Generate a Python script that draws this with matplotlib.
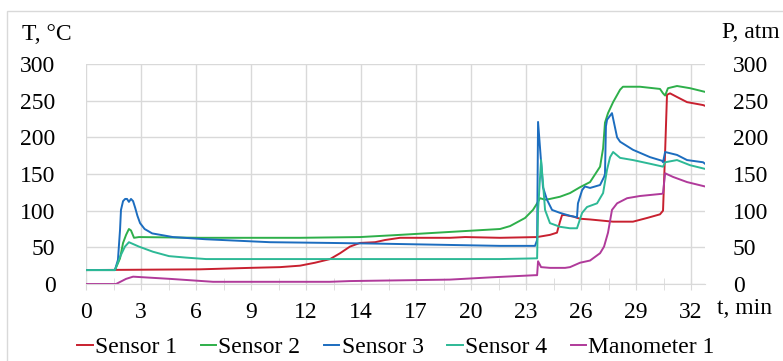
import numpy as np
import matplotlib
matplotlib.use("Agg")
import matplotlib.pyplot as plt
from matplotlib.patches import Rectangle

plt.rcParams["font.family"] = ["Liberation Serif", "DejaVu Serif"]
FS = 17

# x axis: category-like labels, evenly spaced
X_LABELS = ["0", "3", "6", "9", "12", "14", "17", "20", "23", "26", "29", "32"]
STEP = 32 / 11          # minutes between labelled gridlines
T_MAX = 32.74

# Sensor 1 (red)
t_s1 = [0, 6.03, 8.67, 10.26, 11.32, 12.11, 12.91, 13.44, 13.96, 14.49, 15.29, 15.82,
        16.61, 19.25, 20.05, 21.9, 23.86, 24.54, 24.91, 25.07, 25.18, 25.34, 25.76,
        26.13, 26.66, 27.87, 28.93, 29.67, 30.36, 30.52, 30.63, 30.73, 30.89, 31.26,
        31.79, 32.64, 32.74]
s1 = [19, 20, 22, 23, 25, 29, 34, 42, 51, 56, 57, 60,
      63, 63, 64, 63, 64, 67, 70, 85, 94, 94, 92,
      89, 88, 85, 85, 90, 95, 100, 180, 258, 260, 255,
      248, 244, 243]

# Sensor 2 (green)
t_s2 = [0, 1.53, 1.80, 1.96, 2.12, 2.27, 2.38, 2.54, 2.80, 6.03, 11.32, 14.49, 16.61,
        19.25, 21.9, 22.43, 23.22, 23.64, 23.86, 24.01, 24.28, 24.54, 25.07, 25.6,
        26.13, 26.66, 27.19, 27.35, 27.45, 27.61, 27.88, 28.25, 28.4, 29.3, 30.36,
        30.52, 30.63, 30.78, 31.26, 31.95, 32.74]
s2 = [19, 19, 35, 56, 67, 75, 73, 63, 64, 63, 63, 64, 67,
      71, 75, 79, 90, 101, 110, 117, 115, 116, 119, 124,
      132, 139, 160, 185, 220, 233, 248, 265, 269, 269, 266,
      260, 257, 267, 270, 267, 262]

# Sensor 3 (blue)
t_s3 = [0, 1.53, 1.69, 1.80, 1.85, 1.96, 2.07, 2.17, 2.27, 2.38, 2.49, 2.60, 2.72,
        2.86, 3.10, 3.50, 4.60, 6.35, 9.73, 12.91, 15.55, 19.78, 21.9, 23.75, 23.86,
        23.91, 24.01, 24.17, 24.38, 24.65, 25.07, 25.6, 25.97, 26.02, 26.24, 26.39,
        26.66, 27.19, 27.40, 27.45, 27.50, 27.56, 27.82, 28.09, 28.25, 28.93, 29.83,
        30.47, 30.52, 30.63, 31.26, 31.79, 32.64, 32.74]
s3 = [19, 19, 33, 74, 101, 113, 116, 116, 112, 116, 113, 104, 93,
      83, 75, 69, 64, 61, 57, 56, 55, 53, 52, 52, 60,
      221, 187, 132, 115, 101, 97, 93, 91, 110, 128, 133,
      131, 135, 146, 150, 215, 224, 233, 200, 194, 183, 173,
      168, 166, 180, 176, 169, 166, 164]

# Sensor 4 (teal)
t_s4 = [0, 1.53, 1.80, 2.06, 2.27, 2.80, 3.54, 4.39, 5.29, 6.35, 21.9, 23.86, 23.91,
        24.07, 24.17, 24.28, 24.54, 25.07, 25.6, 25.97, 26.24, 26.5, 27.03, 27.35,
        27.56, 27.72, 27.88, 28.25, 28.93, 29.83, 30.52, 30.63, 31.26, 31.95, 32.74]
s4 = [19, 19, 37, 51, 57, 51, 44, 38, 36, 34, 34, 35, 100,
      169, 138, 101, 83, 78, 76, 76, 97, 105, 110, 124,
      156, 173, 180, 172, 169, 164, 160, 166, 169, 162, 157]

# Manometer 1 (purple)
t_m1 = [0, 1.59, 2.12, 2.49, 4.44, 6.72, 12.9, 13.96, 16.61, 19.25, 21.37, 23.75,
        23.86, 23.91, 24.07, 24.54, 25.34, 25.6, 26.13, 26.66, 27.19, 27.40, 27.61,
        27.82, 28.09, 28.62, 29.30, 30.47, 30.52, 30.63, 31.05, 31.79, 32.74]
m1 = [0, 0, 7, 10, 7, 3, 3, 4, 5, 6, 9, 12,
      12, 31, 23, 22, 22, 23, 29, 32, 42, 51, 70,
      101, 110, 117, 120, 123, 124, 151, 146, 139, 133]

SERIES = [
    ("Sensor 1", t_s1, s1, "#C8202F"),
    ("Sensor 2", t_s2, s2, "#2EAF4A"),
    ("Sensor 3", t_s3, s3, "#1C6DBF"),
    ("Sensor 4", t_s4, s4, "#2DB996"),
    ("Manometer 1", t_m1, m1, "#B03A9A"),
]

W, H = 783, 361
fig = plt.figure(figsize=(W / 100, H / 100), dpi=100)
ax = fig.add_axes([86 / W, 1 - 284 / H, (705 - 86) / W, (284 - 64) / H])

for name, t, v, c in SERIES:
    ax.plot(t, v, color=c, lw=1.4, label=name)

ax.set_xlim(0, T_MAX)
ax.set_ylim(0, 300)
ax.set_yticks(np.arange(0, 301, 50))
xt = np.arange(len(X_LABELS)) * STEP
ax.set_xticks(xt)
ax.set_xticklabels(X_LABELS)
ax.set_xticks(xt[:-1] + STEP / 2, minor=True)

grid_c = "#D9D9D9"
ax.grid(True, color=grid_c, lw=1.0)
for s in ["top", "right", "left"]:
    ax.spines[s].set_visible(False)
ax.spines["bottom"].set_color(grid_c)
ax.tick_params(axis="x", which="both", direction="inout", length=8, color=grid_c,
               labelsize=FS, pad=9)
ax.tick_params(axis="y", length=0, labelsize=FS, pad=22)

ax2 = ax.twinx()
ax2.set_ylim(0, 300)
ax2.set_yticks(np.arange(0, 301, 50))
for s in ax2.spines.values():
    s.set_visible(False)
ax2.tick_params(axis="y", length=0, labelsize=FS, pad=20)

fig.text(22 / W, 1 - 35 / H, "T, \u00b0C", fontsize=FS, ha="left", va="center")
fig.text(722 / W, 1 - 33 / H, "P, atm", fontsize=FS, ha="left", va="center")
fig.text(717 / W, 1 - 309 / H, "t, min", fontsize=FS, ha="left", va="center")

fig.legend(loc="center", bbox_to_anchor=(396 / W, 1 - 347 / H), ncol=5, frameon=False,
           fontsize=FS, handlelength=0.65, handletextpad=0.1, columnspacing=1.0,
           borderaxespad=0)

fig.patches.append(Rectangle((7 / W, -0.05), 1.0, 1 - 11 / H + 0.05, transform=fig.transFigure,
                             fill=False, edgecolor="#D9D9D9", lw=1.0))

fig.savefig("out.png", dpi=100)
